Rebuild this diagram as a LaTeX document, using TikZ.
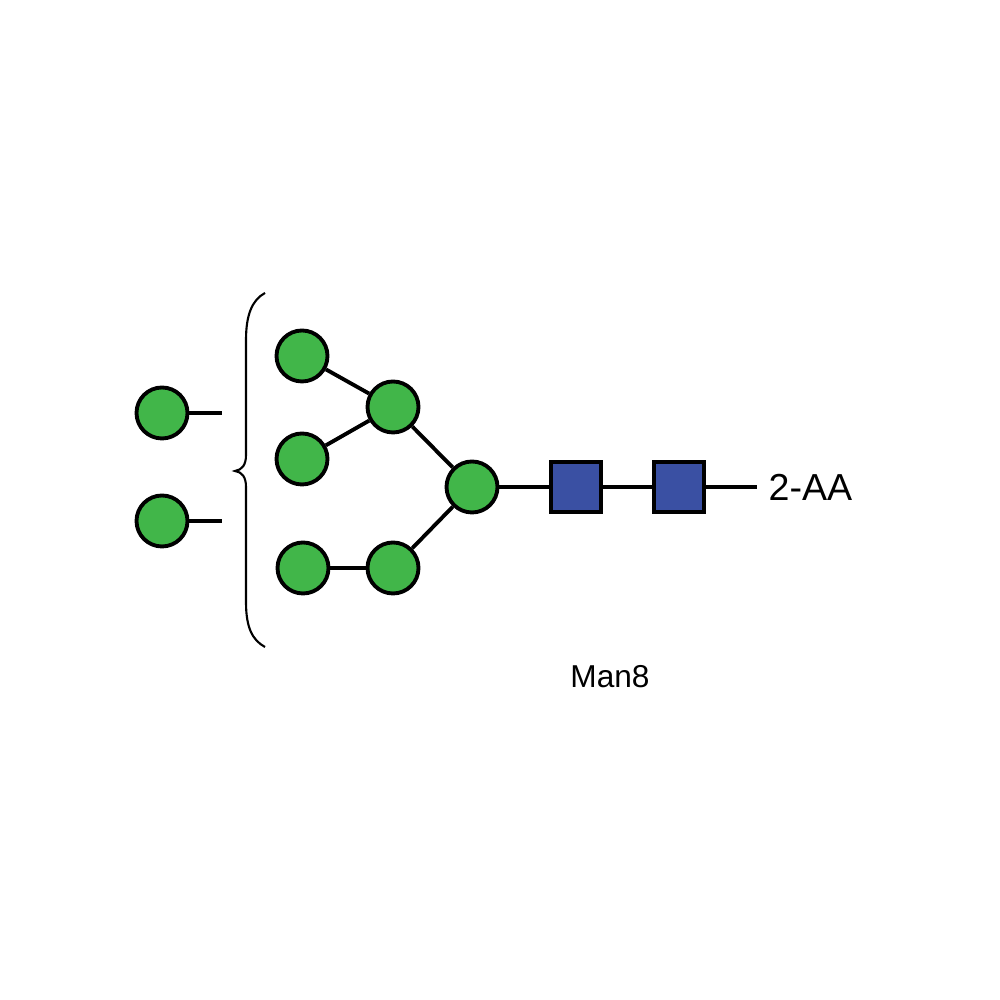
\documentclass[tikz,border=0pt]{standalone}
\usepackage{fontspec}
\setmainfont{Liberation Sans}
\definecolor{mangreen}{HTML}{41B649}
\definecolor{glcblue}{HTML}{3A50A3}
\tikzset{
  man/.style={circle,draw,fill=mangreen,line width=1.1pt,minimum size=0.51cm,inner sep=0pt},
  glcnac/.style={rectangle,draw,fill=glcblue,line width=1.1pt,minimum size=0.50cm,inner sep=0pt},
  bond/.style={line width=1.1pt}
}
\begin{document}
\begin{tikzpicture}
\useasboundingbox (0,0) rectangle (10,10);
% loose mannoses
\node[man] (ma) at (1.62,5.87) {};
\node[man] (mb) at (1.62,4.79) {};
\coordinate (ea) at (2.22,5.87);
\coordinate (eb) at (2.22,4.79);
\draw[bond] (ma) -- (ea);
\draw[bond] (mb) -- (eb);
% brace
\draw[line width=0.6pt] (2.65,7.07) .. controls (2.52,7.0) and (2.46,6.85) .. (2.46,6.6)
  -- (2.46,5.45) .. controls (2.46,5.35) and (2.42,5.30) .. (2.35,5.29)
  .. controls (2.42,5.28) and (2.46,5.23) .. (2.46,5.13)
  -- (2.46,3.98) .. controls (2.46,3.73) and (2.52,3.6) .. (2.65,3.53);
% core
\node[man] (m1) at (3.02,6.44) {};
\node[man] (m2) at (3.93,5.93) {};
\node[man] (m3) at (3.02,5.41) {};
\node[man] (m4) at (4.72,5.13) {};
\node[man] (m5) at (3.03,4.32) {};
\node[man] (m6) at (3.93,4.32) {};
\node[glcnac] (g1) at (5.76,5.13) {};
\node[glcnac] (g2) at (6.79,5.13) {};
\coordinate (aa) at (7.57,5.13);
\draw[bond] (m1) -- (m2);
\draw[bond] (m3) -- (m2);
\draw[bond] (m2) -- (m4);
\draw[bond] (m5) -- (m6);
\draw[bond] (m6) -- (m4);
\draw[bond] (m4) -- (g1);
\draw[bond] (g1) -- (g2);
\draw[bond] (g2) -- (aa);
\node[anchor=west,inner sep=0pt,font=\fontsize{10.7}{12}\selectfont] (lab) at (7.68,5.13) {2-AA};
\node[font=\fontsize{9}{11}\selectfont] (name) at (6.1,3.23) {Man8};
\end{tikzpicture}
\end{document}
